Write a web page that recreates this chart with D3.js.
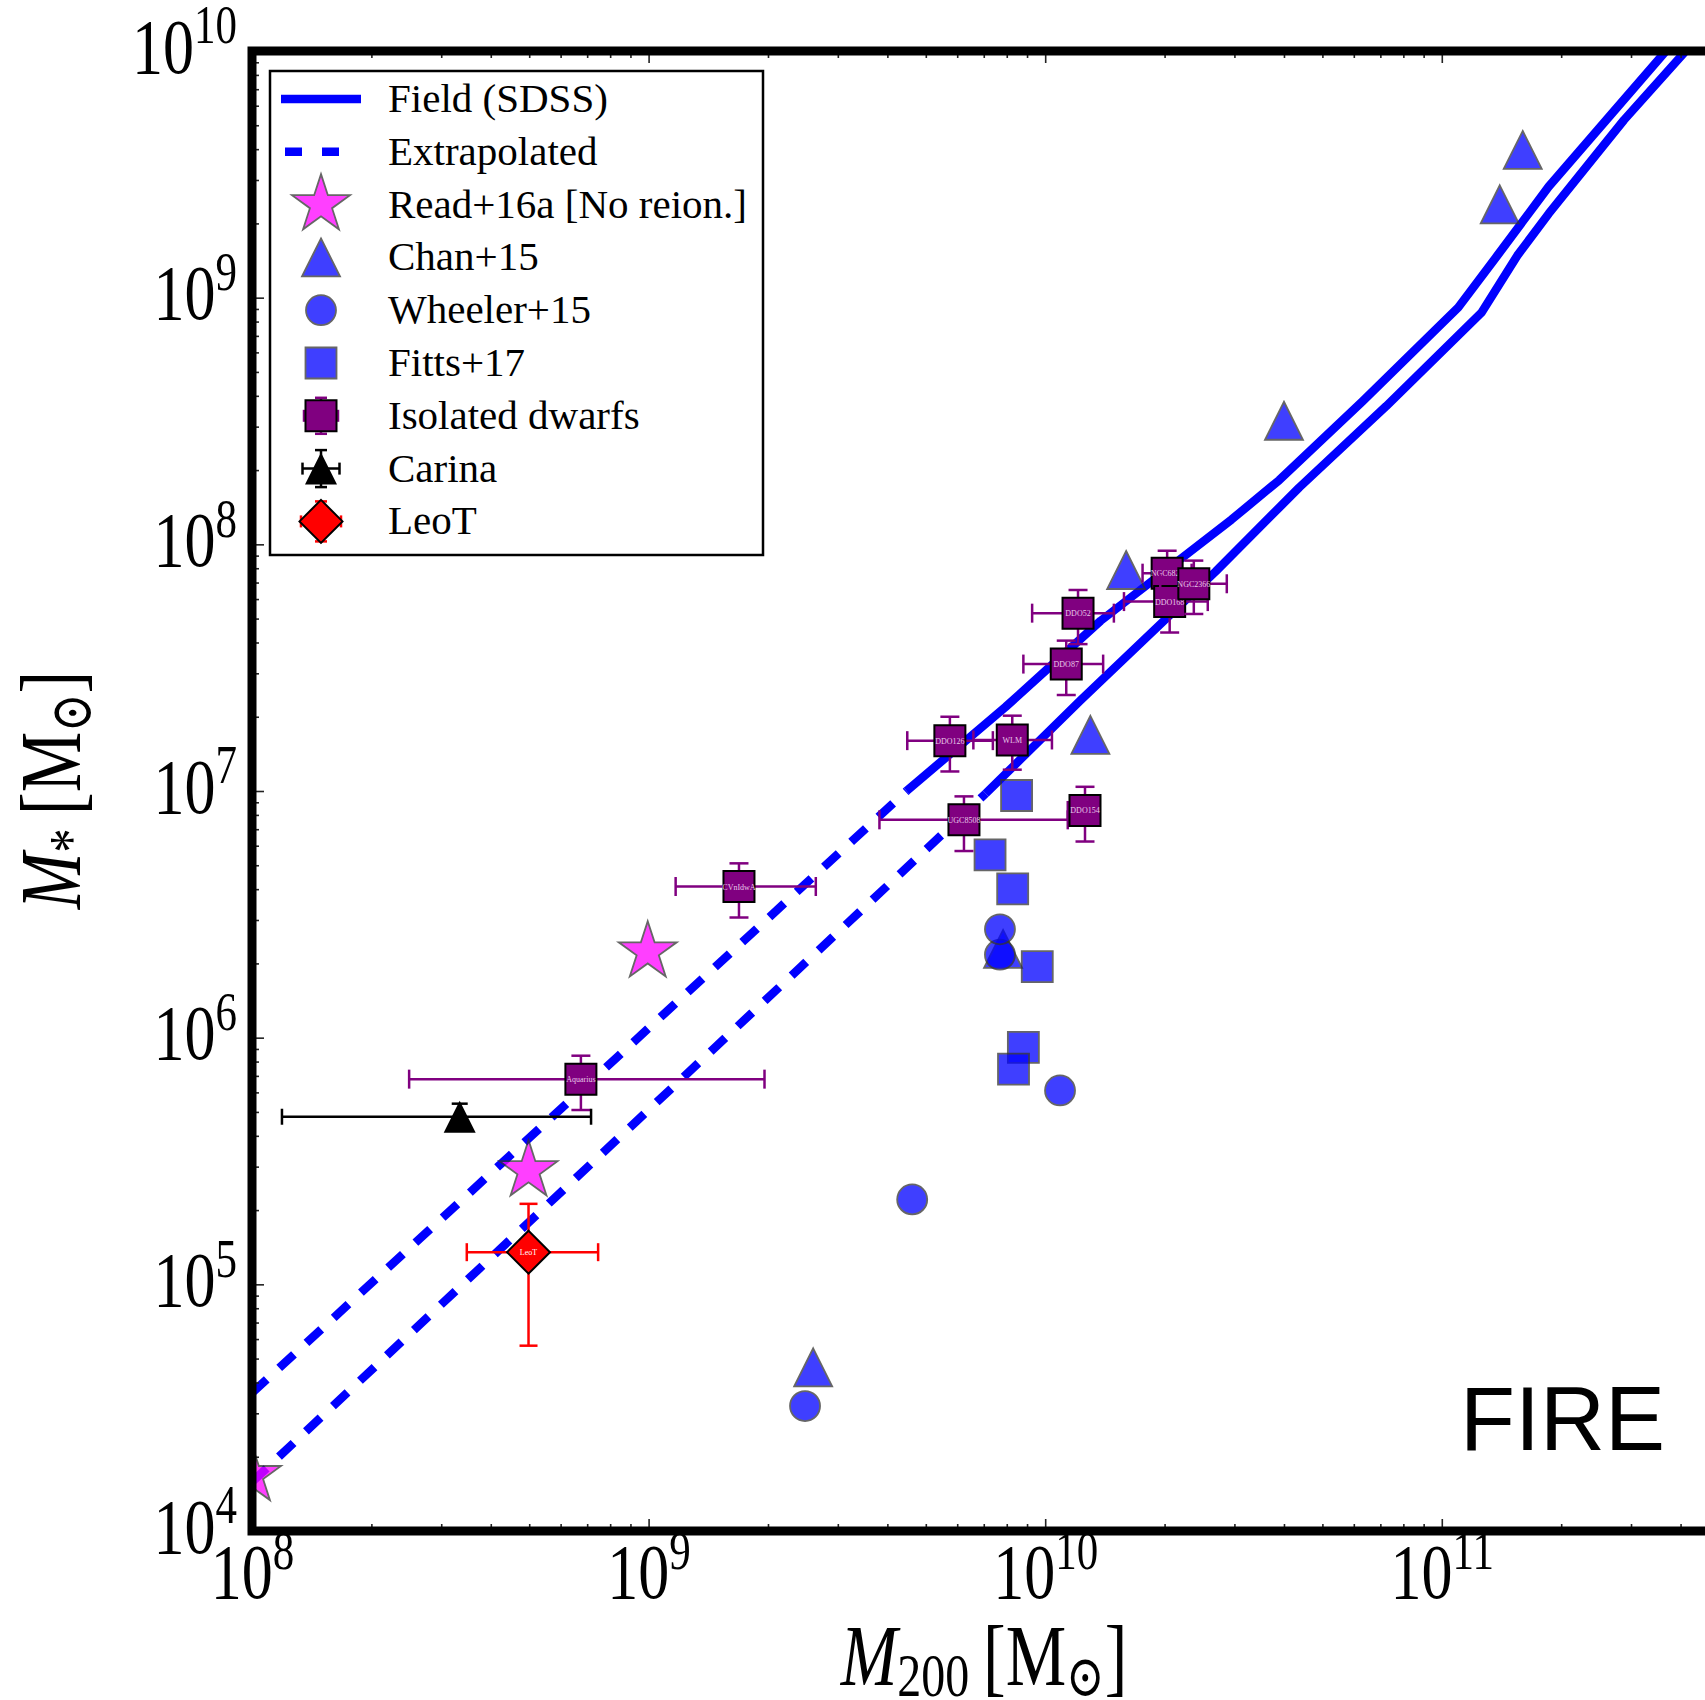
<!DOCTYPE html>
<html lang="en">
<head>
	<meta charset="utf-8">
	<title>M200 vs stellar mass, FIRE</title>
	<script src="https://cdn.jsdelivr.net/npm/d3@7"></script>
	<style>
		body { margin: 0; background: white; }
		svg text { font-family: "Liberation Serif", "DejaVu Serif", serif; }
	</style>
</head>
<body>
<div id="chart"></div>
<script type="text/javascript">

	// SDSS field relation, upper and lower edge (solid part, M* > 1e7)
	var fieldHiM200  = [4.47e9, 7.94e9, 1.38e10, 2.95e10, 3.89e10, 6.31e10, 1.10e11, 1.38e11, 1.86e11, 2.63e11, 3.63e11, 4.17e11];
	var fieldHiMstar = [1.0e7, 2.19e7, 4.90e7, 1.26e8, 1.82e8, 3.80e8, 9.12e8, 1.48e9, 2.82e9, 5.37e9, 9.77e9, 1.26e10];
	var fieldLoM200  = [7.08e9, 1.23e10, 2.69e10, 4.37e10, 7.24e10, 1.26e11, 1.55e11, 1.86e11, 2.88e11, 4.07e11, 4.57e11];
	var fieldLoMstar = [9.77e6, 2.34e7, 7.76e7, 1.70e8, 3.63e8, 8.71e8, 1.48e9, 2.19e9, 5.25e9, 9.77e9, 1.26e10];
	// extrapolated below 1e7
	var extHiM200  = [1e8, 4.47e9];
	var extHiMstar = [3.63e4, 1.0e7];
	var extLoM200  = [1e8, 7.08e9];
	var extLoMstar = [1.58e4, 9.77e6];

	// simulations
	var readM200     = [1e8, 4.98e8, 9.95e8];
	var readMstar    = [1.68e4, 2.89e5, 2.23e6];
	var chanM200     = [2.60e9, 7.83e9, 1.30e10, 1.60e10, 4.00e10, 1.40e11, 1.60e11];
	var chanMstar    = [4.61e4, 2.29e6, 1.69e7, 7.87e7, 3.17e8, 2.39e9, 3.97e9];
	var wheelerM200  = [2.48e9, 4.62e9, 7.69e9, 7.69e9, 1.09e10];
	var wheelerMstar = [3.21e4, 2.21e5, 2.17e6, 2.75e6, 6.11e5];
	var fittsM200    = [8.47e9, 7.26e9, 8.28e9, 9.55e9, 8.81e9, 8.32e9];
	var fittsMstar   = [9.59e6, 5.51e6, 4.01e6, 1.94e6, 9.14e5, 7.45e5];

	// isolated dwarfs with error ranges
	var dwarfNames   = ["Aquarius", "CVnIdwA", "DDO126", "WLM", "UGC8508", "DDO154", "DDO87", "DDO52", "NGC6822", "DDO168", "NGC2366"];
	var dwarfM200    = [6.75e8, 1.69e9, 5.75e9, 8.26e9, 6.24e9, 1.26e10, 1.13e10, 1.21e10, 2.03e10, 2.06e10, 2.37e10];
	var dwarfM200Lo  = [2.49e8, 1.17e9, 4.49e9, 6.59e9, 3.82e9, 1.14e10, 8.81e9, 9.27e9, 1.76e10, 1.58e10, 1.95e10];
	var dwarfM200Hi  = [1.96e9, 2.64e9, 7.38e9, 1.04e10, 1.14e10, 1.35e10, 1.40e10, 1.49e10, 2.34e10, 2.57e10, 2.87e10];
	var dwarfMstar   = [6.79e5, 4.10e6, 1.60e7, 1.61e7, 7.64e6, 8.34e6, 3.27e7, 5.26e7, 7.64e7, 5.86e7, 6.92e7];
	var dwarfMstarLo = [5.09e5, 3.07e6, 1.20e7, 1.22e7, 5.71e6, 6.24e6, 2.45e7, 3.94e7, 6.17e7, 4.39e7, 5.22e7];
	var dwarfMstarHi = [8.45e5, 5.09e6, 2.00e7, 2.02e7, 9.51e6, 1.04e7, 4.07e7, 6.53e7, 9.42e7, 7.08e7, 8.59e7];

	var carinaM200 = [3.34e8], carinaM200Lo = [1.19e8], carinaM200Hi = [7.16e8];
	var carinaMstar = [4.78e5], carinaMstarLo = [4.47e5], carinaMstarHi = [5.40e5];
	var leoM200 = [4.98e8], leoM200Lo = [3.48e8], leoM200Hi = [7.46e8];
	var leoMstar = [1.35e5], leoMstarLo = [5.64e4], leoMstarHi = [2.12e5];

	var legendLabels = ["Field (SDSS)", "Extrapolated", "Read+16a [No reion.]", "Chan+15", "Wheeler+15",
	                    "Fitts+17", "Isolated dwarfs", "Carina", "LeoT"];
	var xMajor = [1e8, 1e9, 1e10, 1e11];
	var yMajor = [1e4, 1e5, 1e6, 1e7, 1e8, 1e9, 1e10];

	var purple = "#800080";

	//Create SVG element
	var svg = d3.select("#chart")
		.append("svg")
		.attr("width", 1705)
		.attr("height", 1700)
		.style("background", "white");

	// right edge of the axes falls beyond the canvas, as in the figure
	var x = d3.scaleLog().domain([1e8, 5e11]).range([252, 1719]);
	var y = d3.scaleLog().domain([1e4, 1e10]).range([1531, 51]);

	svg.append("defs").append("clipPath").attr("id", "plotclip")
		.append("rect").attr("x", 252).attr("y", 51).attr("width", 1467).attr("height", 1480);

	var plot = svg.append("g").attr("clip-path", "url(#plotclip)");

	// marker shapes (matplotlib-like)
	function starPath(r) {
		var p = [];
		for (var k = 0; k < 10; k++) {
			var a = -Math.PI / 2 + k * Math.PI / 5;
			var rr = (k % 2) ? r * 0.382 : r;
			p.push([rr * Math.cos(a), rr * Math.sin(a)]);
		}
		return "M" + p.join("L") + "Z";
	}
	function triPath(s) { return "M0," + (-s) + "L" + s + "," + s + "L" + (-s) + "," + s + "Z"; }
	function squarePath(s) { return "M" + (-s) + "," + (-s) + "H" + s + "V" + s + "H" + (-s) + "Z"; }
	function diamondPath(s) { return "M0," + (-s) + "L" + s + ",0L0," + s + "L" + (-s) + ",0Z"; }
	function circlePath(r) { return "M" + (-r) + ",0A" + r + "," + r + " 0 1,0 " + r + ",0A" + r + "," + r + " 0 1,0 " + (-r) + ",0Z"; }

	// Field lines
	var line = d3.line().x(function(d) { return x(d[0]); }).y(function(d) { return y(d[1]); });
	function pairs(a, b) { return a.map(function(v, i) { return [v, b[i]]; }); }

	[[extHiM200, extHiMstar], [extLoM200, extLoMstar]].forEach(function(s) {
		plot.append("path").attr("d", line(pairs(s[0], s[1])))
			.attr("fill", "none").attr("stroke", "blue").attr("stroke-width", 8.5)
			.attr("stroke-dasharray", "20,17");
	});
	[[fieldHiM200, fieldHiMstar], [fieldLoM200, fieldLoMstar]].forEach(function(s) {
		plot.append("path").attr("d", line(pairs(s[0], s[1])))
			.attr("fill", "none").attr("stroke", "blue").attr("stroke-width", 8.5)
			.attr("stroke-linejoin", "round");
	});

	// simulation points
	function scatter(xs, ys, path, fill) {
		plot.append("g").selectAll("path")
			.data(pairs(xs, ys))
			.enter()
				.append("path")
				.attr("transform", function(d) { return "translate(" + x(d[0]) + "," + y(d[1]) + ")"; })
				.attr("d", path)
				.attr("fill", fill)
				.attr("stroke", "#333")
				.attr("stroke-width", 1.8)
				.attr("opacity", 0.75);
	}
	scatter(readM200, readMstar, starPath(30.5), "magenta");
	scatter(chanM200, chanMstar, triPath(19), "blue");
	scatter(wheelerM200, wheelerMstar, circlePath(15), "blue");
	scatter(fittsM200, fittsMstar, squarePath(15.5), "blue");

	// error bars
	function errBars(g, cx, cy, x0, x1, y0, y1, color, cap) {
		var e = g.append("g").attr("stroke", color).attr("stroke-width", 2.5);
		e.append("line").attr("x1", x0).attr("x2", x1).attr("y1", cy).attr("y2", cy);
		e.append("line").attr("x1", cx).attr("x2", cx).attr("y1", y0).attr("y2", y1);
		[x0, x1].forEach(function(v) {
			e.append("line").attr("x1", v).attr("x2", v).attr("y1", cy - cap).attr("y2", cy + cap);
		});
		[y0, y1].forEach(function(v) {
			e.append("line").attr("x1", cx - cap).attr("x2", cx + cap).attr("y1", v).attr("y2", v);
		});
	}

	dwarfNames.forEach(function(name, i) {
		var g = plot.append("g");
		var cx = x(dwarfM200[i]), cy = y(dwarfMstar[i]);
		errBars(g, cx, cy, x(dwarfM200Lo[i]), x(dwarfM200Hi[i]), y(dwarfMstarLo[i]), y(dwarfMstarHi[i]), purple, 9.5);
		g.append("path").attr("transform", "translate(" + cx + "," + cy + ")")
			.attr("d", squarePath(15.5)).attr("fill", purple).attr("stroke", "black").attr("stroke-width", 2);
		g.append("text").attr("x", cx).attr("y", cy + 3).attr("text-anchor", "middle")
			.style("font-size", "8px").attr("fill", "#e8c8e8").text(name);
	});

	var gc = plot.append("g");
	errBars(gc, x(carinaM200[0]), y(carinaMstar[0]), x(carinaM200Lo[0]), x(carinaM200Hi[0]),
		y(carinaMstarLo[0]), y(carinaMstarHi[0]), "black", 8);
	gc.append("path").attr("transform", "translate(" + x(carinaM200[0]) + "," + y(carinaMstar[0]) + ")")
		.attr("d", triPath(16)).attr("fill", "black");

	var gl = plot.append("g");
	errBars(gl, x(leoM200[0]), y(leoMstar[0]), x(leoM200Lo[0]), x(leoM200Hi[0]),
		y(leoMstarLo[0]), y(leoMstarHi[0]), "red", 9);
	gl.append("path").attr("transform", "translate(" + x(leoM200[0]) + "," + y(leoMstar[0]) + ")")
		.attr("d", diamondPath(21.5)).attr("fill", "red").attr("stroke", "black").attr("stroke-width", 2);
	gl.append("text").attr("x", x(leoM200[0])).attr("y", y(leoMstar[0]) + 3).attr("text-anchor", "middle")
		.style("font-size", "8px").attr("fill", "white").text("LeoT");

	// minor tick positions
	var xMinor = [], yMinor = [];
	xMajor.forEach(function(m) { for (var k = 2; k < 10; k++) xMinor.push(m * k); });
	yMajor.slice(0, 6).forEach(function(m) { for (var k = 2; k < 10; k++) yMinor.push(m * k); });

	function tickStyle(g) {
		g.select(".domain").remove();
		g.selectAll(".tick line").attr("stroke", "#222").attr("stroke-width", 1.6);
		g.selectAll(".tick text").remove();
	}

	// label "10^n" with the tall look of the original
	function powerLabel(tick, tx, ty, anchor) {
		tick.each(function(d) {
			var t = d3.select(this).append("g")
				.attr("transform", "translate(" + tx + "," + ty + ") scale(1,1.27)")
				.append("text").attr("text-anchor", anchor).style("font-size", "62px").attr("fill", "black");
			t.append("tspan").text("10");
			t.append("tspan").attr("dy", -23).style("font-size", "43px").text(Math.round(Math.log10(d)));
		});
	}

	// Bottom and top axes
	var gx = svg.append("g").attr("transform", "translate(0,1531)");
	gx.append("g").call(d3.axisBottom(x).tickValues(xMajor).tickSize(-12)).call(tickStyle);
	gx.append("g").call(d3.axisBottom(x).tickValues(xMinor).tickSize(-7)).call(tickStyle);
	powerLabel(gx.select("g").selectAll(".tick"), 0, 67, "middle");

	var gt = svg.append("g").attr("transform", "translate(0,51)");
	gt.append("g").call(d3.axisTop(x).tickValues(xMajor).tickSize(-12)).call(tickStyle);
	gt.append("g").call(d3.axisTop(x).tickValues(xMinor).tickSize(-7)).call(tickStyle);

	// Left axis
	var gy = svg.append("g").attr("transform", "translate(252,0)");
	gy.append("g").call(d3.axisLeft(y).tickValues(yMajor).tickSize(-12)).call(tickStyle);
	gy.append("g").call(d3.axisLeft(y).tickValues(yMinor).tickSize(-7)).call(tickStyle);
	powerLabel(gy.select("g").selectAll(".tick"), -15, 21, "end");

	// spines
	svg.append("rect").attr("x", 252).attr("y", 51).attr("width", 1467).attr("height", 1480)
		.attr("fill", "none").attr("stroke", "black").attr("stroke-width", 9);

	// axis titles
	var xt = svg.append("g").attr("transform", "translate(984,1685) scale(1,1.27)")
		.append("text").attr("text-anchor", "middle").style("font-size", "68px");
	xt.append("tspan").style("font-style", "italic").text("M");
	xt.append("tspan").attr("dy", 9).style("font-size", "48px").text("200");
	xt.append("tspan").attr("dy", -9).text("\u2009[M");
	xt.append("tspan").attr("dy", 9).style("font-size", "46px").text("\u2299");
	xt.append("tspan").attr("dy", -9).text("]");

	var yt = svg.append("g").attr("transform", "translate(80,790) rotate(-90) scale(1,1.27)")
		.append("text").attr("text-anchor", "middle").style("font-size", "68px");
	yt.append("tspan").style("font-style", "italic").text("M");
	yt.append("tspan").attr("dy", 9).style("font-size", "48px").text("*");
	yt.append("tspan").attr("dy", -9).text("\u2009[M");
	yt.append("tspan").attr("dy", 9).style("font-size", "46px").text("\u2299");
	yt.append("tspan").attr("dy", -9).text("]");

	// FIRE tag
	svg.append("text").attr("x", 1460).attr("y", 1450)
		.style("font-family", "'Liberation Sans', Arial, sans-serif").style("font-size", "90px")
		.text("FIRE");

	// Legend
	var lg = svg.append("g");
	lg.append("rect").attr("x", 270).attr("y", 71).attr("width", 493).attr("height", 484)
		.attr("fill", "white").attr("stroke", "black").attr("stroke-width", 2.5);
	var rowY = function(i) { return 99 + i * 52.8; };
	var hx = 321;

	lg.append("line").attr("x1", 281).attr("x2", 361).attr("y1", rowY(0)).attr("y2", rowY(0))
		.attr("stroke", "blue").attr("stroke-width", 8.5);
	lg.append("line").attr("x1", 285).attr("x2", 339).attr("y1", rowY(1)).attr("y2", rowY(1))
		.attr("stroke", "blue").attr("stroke-width", 8.5).attr("stroke-dasharray", "17,20");
	[[starPath(30.5), "magenta"], [triPath(19), "blue"], [circlePath(15), "blue"], [squarePath(15.5), "blue"]]
		.forEach(function(m, k) {
			lg.append("path").attr("transform", "translate(" + hx + "," + rowY(k + 2) + ")")
				.attr("d", m[0]).attr("fill", m[1]).attr("stroke", "#333").attr("stroke-width", 1.8).attr("opacity", 0.75);
		});
	errBars(lg, hx, rowY(6), hx - 17, hx + 17, rowY(6) - 18, rowY(6) + 18, purple, 6);
	lg.append("path").attr("transform", "translate(" + hx + "," + rowY(6) + ")")
		.attr("d", squarePath(15.5)).attr("fill", purple).attr("stroke", "black").attr("stroke-width", 2);
	errBars(lg, hx, rowY(7), hx - 18.5, hx + 18.5, rowY(7) - 18.5, rowY(7) + 18.5, "black", 6);
	lg.append("path").attr("transform", "translate(" + hx + "," + rowY(7) + ")")
		.attr("d", triPath(16)).attr("fill", "black");
	errBars(lg, hx, rowY(8), hx - 20, hx + 20, rowY(8) - 20, rowY(8) + 20, "red", 6);
	lg.append("path").attr("transform", "translate(" + hx + "," + rowY(8) + ")")
		.attr("d", diamondPath(21.5)).attr("fill", "red").attr("stroke", "black").attr("stroke-width", 2);

	lg.selectAll("text.lab")
		.data(legendLabels)
		.enter()
			.append("text")
			.attr("class", "lab")
			.attr("x", 388)
			.attr("y", function(d, i) { return rowY(i) + 13; })
			.style("font-size", "41px")
			.text(function(d) { return d; });

</script>
</body>
</html>
